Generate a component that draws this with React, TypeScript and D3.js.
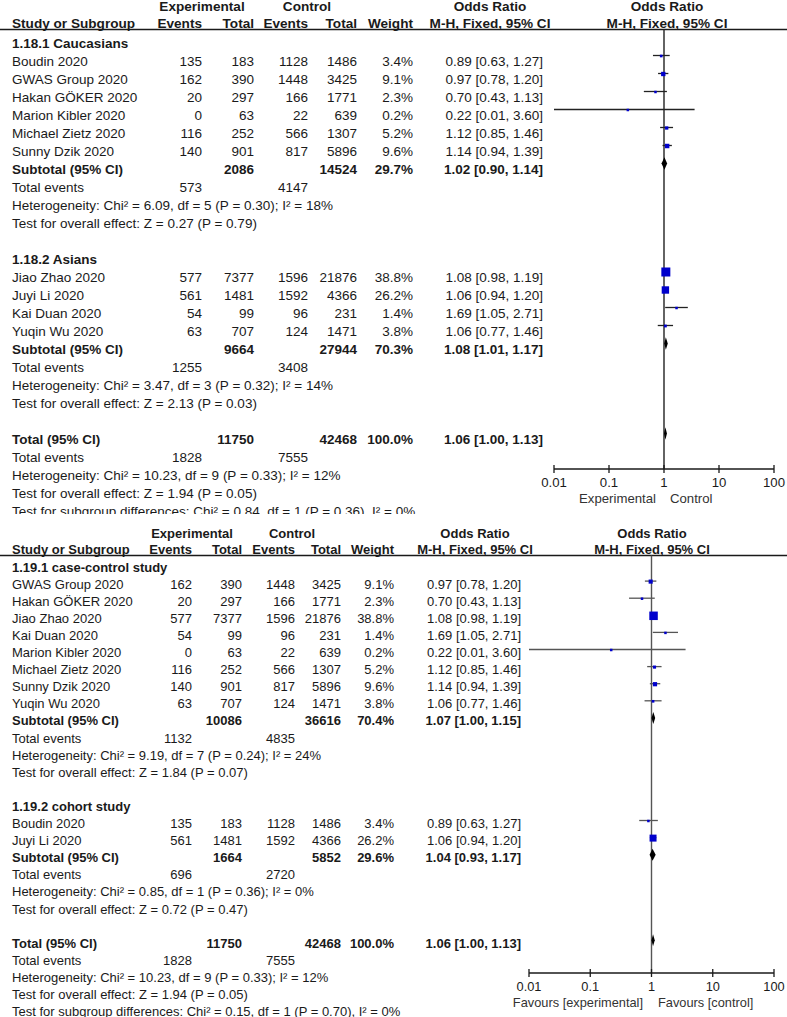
import React from "react";
import * as d3 from "d3";

// ---- study level data (same studies appear in both analyses) ----
const studyNames = [
  "Boudin 2020",
  "GWAS Group 2020",
  "Hakan GÖKER 2020",
  "Marion Kibler 2020",
  "Michael Zietz 2020",
  "Sunny Dzik 2020",
  "Jiao Zhao 2020",
  "Juyi Li 2020",
  "Kai Duan 2020",
  "Yuqin Wu 2020",
];
const expEvents = [135, 162, 20, 0, 116, 140, 577, 561, 54, 63];
const expTotal = [183, 390, 297, 63, 252, 901, 7377, 1481, 99, 707];
const ctlEvents = [1128, 1448, 166, 22, 566, 817, 1596, 1592, 96, 124];
const ctlTotal = [1486, 3425, 1771, 639, 1307, 5896, 21876, 4366, 231, 1471];
const weights = [3.4, 9.1, 2.3, 0.2, 5.2, 9.6, 38.8, 26.2, 1.4, 3.8];
const oddsRatio = [0.89, 0.97, 0.7, 0.22, 1.12, 1.14, 1.08, 1.06, 1.69, 1.06];
const ciLow = [0.63, 0.78, 0.43, 0.01, 0.85, 0.94, 0.98, 0.94, 1.05, 0.77];
const ciHigh = [1.27, 1.2, 1.13, 3.6, 1.46, 1.39, 1.19, 1.2, 2.71, 1.46];

// ---- 1.18 by ethnicity ----
const ethGroups = ["1.18.1 Caucasians", "1.18.2 Asians"];
const ethMembers = [[0, 1, 2, 3, 4, 5], [6, 7, 8, 9]];
const ethSubExpTotal = [2086, 9664];
const ethSubCtlTotal = [14524, 27944];
const ethSubWeight = [29.7, 70.3];
const ethSubOR = [1.02, 1.08];
const ethSubLow = [0.9, 1.01];
const ethSubHigh = [1.14, 1.17];
const ethSubExpEvents = [573, 1255];
const ethSubCtlEvents = [4147, 3408];
const ethHet = ["Chi² = 6.09, df = 5 (P = 0.30); I² = 18%", "Chi² = 3.47, df = 3 (P = 0.32); I² = 14%"];
const ethZ = ["Z = 0.27 (P = 0.79)", "Z = 2.13 (P = 0.03)"];
const ethSubgroupDiff = "Chi² = 0.84, df = 1 (P = 0.36), I² = 0%";

// ---- 1.19 by study design ----
const designGroups = ["1.19.1 case-control study", "1.19.2 cohort study"];
const designMembers = [[1, 2, 6, 8, 3, 4, 5, 9], [0, 7]];
const designSubExpTotal = [10086, 1664];
const designSubCtlTotal = [36616, 5852];
const designSubWeight = [70.4, 29.6];
const designSubOR = [1.07, 1.04];
const designSubLow = [1.0, 0.93];
const designSubHigh = [1.15, 1.17];
const designSubExpEvents = [1132, 696];
const designSubCtlEvents = [4835, 2720];
const designHet = ["Chi² = 9.19, df = 7 (P = 0.24); I² = 24%", "Chi² = 0.85, df = 1 (P = 0.36); I² = 0%"];
const designZ = ["Z = 1.84 (P = 0.07)", "Z = 0.72 (P = 0.47)"];
const designSubgroupDiff = "Chi² = 0.15, df = 1 (P = 0.70), I² = 0%";

// ---- overall ----
const totalExp = 11750;
const totalCtl = 42468;
const totalWeight = 100.0;
const totalOR = [1.06, 1.0, 1.13];
const totalEvents = [1828, 7555];
const totalHet = "Chi² = 10.23, df = 9 (P = 0.33); I² = 12%";
const totalZ = "Z = 1.94 (P = 0.05)";

const axisTicks = [0.01, 0.1, 1, 10, 100];

const FONT = "'Liberation Sans', Arial, Helvetica, sans-serif";
const INK = "#1a1a1a";
const BLUE = "#0000cc";

const fmtOR = (o: number, l: number, h: number) =>
  `${o.toFixed(2)} [${l.toFixed(2)}, ${h.toFixed(2)}]`;
const fmtW = (w: number) => `${w.toFixed(1)}%`;

function buildRows(groups, members, subExpT, subCtlT, subW, subOR, subLo, subHi, subEE, subCE, het, z, diff) {
  const rows: any[] = [];
  groups.forEach((g, gi) => {
    rows.push({ kind: "group", label: g });
    members[gi].forEach((si) => rows.push({ kind: "study", i: si }));
    rows.push({
      kind: "subtotal", label: "Subtotal (95% CI)",
      et: subExpT[gi], ct: subCtlT[gi], w: subW[gi], or: subOR[gi], lo: subLo[gi], hi: subHi[gi],
    });
    rows.push({ kind: "events", ee: subEE[gi], ce: subCE[gi] });
    rows.push({ kind: "text", label: "Heterogeneity: " + het[gi] });
    rows.push({ kind: "text", label: "Test for overall effect: " + z[gi] });
    rows.push({ kind: "blank" });
  });
  rows.push({
    kind: "subtotal", label: "Total (95% CI)",
    et: totalExp, ct: totalCtl, w: totalWeight, or: totalOR[0], lo: totalOR[1], hi: totalOR[2],
  });
  rows.push({ kind: "events", ee: totalEvents[0], ce: totalEvents[1] });
  rows.push({ kind: "text", label: "Heterogeneity: " + totalHet });
  rows.push({ kind: "text", label: "Test for overall effect: " + totalZ });
  rows.push({ kind: "text", label: "Test for subgroup differences: " + diff });
  return rows;
}

function Panel({ cfg, rows, id }) {
  const x = d3.scaleLog().domain([0.01, 100]).range(cfg.plot);
  const side = d3.scaleSqrt().domain([0, d3.max(weights)]).range([0, cfg.sqMax]);
  const fs = cfg.font;
  const c = cfg.x;
  const t = (props, s) => (
    <text fontFamily={FONT} fontSize={fs} fill={INK} {...props}>{s}</text>
  );
  const b = { fontWeight: "bold", fontSize: cfg.headFont };
  return (
    <g clipPath={`url(#${id})`}>
      <defs>
        <clipPath id={id}>
          <rect x={0} y={cfg.clipTop} width={787} height={cfg.clipBottom - cfg.clipTop} />
        </clipPath>
      </defs>
      {/* header */}
      {t({ x: c.expHead, y: cfg.headY1, textAnchor: "middle", ...b }, "Experimental")}
      {t({ x: c.ctlHead, y: cfg.headY1, textAnchor: "middle", ...b }, "Control")}
      {t({ x: c.orHead, y: cfg.headY1, textAnchor: "middle", ...b }, "Odds Ratio")}
      {t({ x: cfg.plotHead, y: cfg.headY1, textAnchor: "middle", ...b }, "Odds Ratio")}
      {t({ x: c.study, y: cfg.headY2, ...b }, "Study or Subgroup")}
      {t({ x: c.expEv, y: cfg.headY2, textAnchor: "end", ...b }, "Events")}
      {t({ x: c.expTot, y: cfg.headY2, textAnchor: "end", ...b }, "Total")}
      {t({ x: c.ctlEv, y: cfg.headY2, textAnchor: "end", ...b }, "Events")}
      {t({ x: c.ctlTot, y: cfg.headY2, textAnchor: "end", ...b }, "Total")}
      {t({ x: c.weight, y: cfg.headY2, textAnchor: "end", ...b }, "Weight")}
      {t({ x: c.orHead, y: cfg.headY2, textAnchor: "middle", ...b }, "M-H, Fixed, 95% CI")}
      {t({ x: cfg.plotHead, y: cfg.headY2, textAnchor: "middle", ...b }, "M-H, Fixed, 95% CI")}
      <line x1={0} x2={787} y1={cfg.lineY} y2={cfg.lineY} stroke={INK} strokeWidth={1.4} />
      {/* reference line at OR = 1 */}
      <line x1={x(1)} x2={x(1)} y1={cfg.lineY} y2={cfg.axisY} stroke={cfg.lineColor} strokeWidth={1.4} />
      {rows.map((r, k) => {
        const y = cfg.y0 + k * cfg.rowH;
        const my = y - cfg.markOff;
        if (r.kind === "group")
          return <g key={k}>{t({ x: c.study, y, fontWeight: "bold" }, r.label)}</g>;
        if (r.kind === "study") {
          const i = r.i;
          const s = Math.max(2.5, side(weights[i]));
          return (
            <g key={k}>
              {t({ x: c.study, y }, studyNames[i])}
              {t({ x: c.expEv, y, textAnchor: "end" }, expEvents[i])}
              {t({ x: c.expTot, y, textAnchor: "end" }, expTotal[i])}
              {t({ x: c.ctlEv, y, textAnchor: "end" }, ctlEvents[i])}
              {t({ x: c.ctlTot, y, textAnchor: "end" }, ctlTotal[i])}
              {t({ x: c.weight, y, textAnchor: "end" }, fmtW(weights[i]))}
              {t({ x: c.ci, y, textAnchor: "end" }, fmtOR(oddsRatio[i], ciLow[i], ciHigh[i]))}
              <line x1={x(ciLow[i])} x2={x(ciHigh[i])} y1={my} y2={my} stroke={cfg.lineColor} strokeWidth={1.3} />
              <rect x={x(oddsRatio[i]) - s / 2} y={my - s / 2 + 0.5} width={s} height={s} fill={BLUE} />
            </g>
          );
        }
        if (r.kind === "subtotal") {
          const h = cfg.diamondH;
          const pts = [
            [x(r.lo), my], [x(r.or), my - h], [x(r.hi), my], [x(r.or), my + h],
          ].map((p) => p.join(",")).join(" ");
          return (
            <g key={k}>
              {t({ x: c.study, y, fontWeight: "bold" }, r.label)}
              {t({ x: c.expTot, y, textAnchor: "end", fontWeight: "bold" }, r.et)}
              {t({ x: c.ctlTot, y, textAnchor: "end", fontWeight: "bold" }, r.ct)}
              {t({ x: c.weight, y, textAnchor: "end", fontWeight: "bold" }, fmtW(r.w))}
              {t({ x: c.ci, y, textAnchor: "end", fontWeight: "bold" }, fmtOR(r.or, r.lo, r.hi))}
              <polygon points={pts} fill="#000" />
            </g>
          );
        }
        if (r.kind === "events")
          return (
            <g key={k}>
              {t({ x: c.study, y }, "Total events")}
              {t({ x: c.expEv, y, textAnchor: "end" }, r.ee)}
              {t({ x: c.ctlEv, y, textAnchor: "end" }, r.ce)}
            </g>
          );
        if (r.kind === "text") return <g key={k}>{t({ x: c.study, y }, r.label)}</g>;
        return null;
      })}
      {/* axis */}
      <line x1={cfg.plot[0]} x2={cfg.plot[1]} y1={cfg.axisY} y2={cfg.axisY} stroke={INK} strokeWidth={1.5} />
      {axisTicks.map((v) => (
        <g key={v}>
          <line x1={x(v)} x2={x(v)} y1={cfg.axisY - 4} y2={cfg.axisY + 4} stroke={INK} strokeWidth={1.3} />
          {t({ x: x(v), y: cfg.tickLabelY, textAnchor: "middle", fontSize: cfg.tickFont }, String(v))}
        </g>
      ))}
      {t({ x: cfg.leftLabelX, y: cfg.sideLabelY, textAnchor: "end", fontSize: cfg.tickFont, fill: "#333" }, cfg.leftLabel)}
      {t({ x: cfg.rightLabelX, y: cfg.sideLabelY, fontSize: cfg.tickFont, fill: "#333" }, cfg.rightLabel)}
    </g>
  );
}

const topCfg = {
  headY1: 11, headY2: 27.5, lineY: 29.5, y0: 47.5, rowH: 18, font: 13.5, headFont: 13.6, tickFont: 13.2,
  markOff: 10, sqMax: 9, diamondH: 6.3, lineColor: "#222",
  x: { study: 12, expEv: 202, expTot: 254, ctlEv: 308, ctlTot: 357, weight: 413, ci: 543, expHead: 202, ctlHead: 307, orHead: 490 },
  plot: [554, 774], plotHead: 667, axisY: 469, tickLabelY: 486.5, sideLabelY: 502.5,
  leftLabel: "Experimental", rightLabel: "Control", leftLabelX: 656, rightLabelX: 670,
  clipTop: 0, clipBottom: 514,
};

const bottomCfg = {
  headY1: 537.5, headY2: 553.5, lineY: 555.5, y0: 571.5, rowH: 17.1, font: 13, headFont: 13, tickFont: 12.8,
  markOff: 7.5, sqMax: 8.5, diamondH: 6, lineColor: "#555",
  x: { study: 12, expEv: 192, expTot: 242, ctlEv: 295, ctlTot: 341, weight: 394, ci: 521, expHead: 192, ctlHead: 292, orHead: 475 },
  plot: [529, 774], plotHead: 652, axisY: 973, tickLabelY: 991, sideLabelY: 1007,
  leftLabel: "Favours [experimental]", rightLabel: "Favours [control]", leftLabelX: 643, rightLabelX: 658,
  clipTop: 517, clipBottom: 1017,
};

export default function App() {
  const topRows = buildRows(ethGroups, ethMembers, ethSubExpTotal, ethSubCtlTotal, ethSubWeight, ethSubOR,
    ethSubLow, ethSubHigh, ethSubExpEvents, ethSubCtlEvents, ethHet, ethZ, ethSubgroupDiff);
  const bottomRows = buildRows(designGroups, designMembers, designSubExpTotal, designSubCtlTotal, designSubWeight,
    designSubOR, designSubLow, designSubHigh, designSubExpEvents, designSubCtlEvents, designHet, designZ, designSubgroupDiff);
  return (
    <svg width={787} height={1017} style={{ position: "absolute", left: 0, top: 0, background: "#fff" }}>
      <rect width={787} height={1017} fill="#fff" />
      <Panel cfg={topCfg} rows={topRows} id="clipTop" />
      <Panel cfg={bottomCfg} rows={bottomRows} id="clipBottom" />
    </svg>
  );
}
